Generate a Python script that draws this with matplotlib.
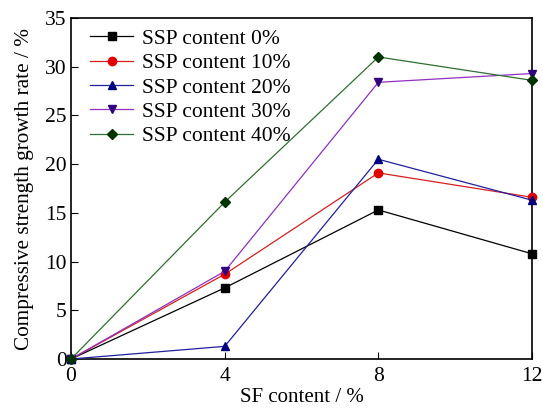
import matplotlib
matplotlib.use("Agg")
from matplotlib import pyplot as plt

sf = [0, 4, 8, 12]
ssp0 = [0, 7.3, 15.3, 10.8]
ssp10 = [0, 8.7, 19.1, 16.6]
ssp20 = [0, 1.3, 20.5, 16.3]
ssp30 = [0, 9.0, 28.4, 29.3]
ssp40 = [0, 16.1, 31.0, 28.6]
labels = ["SSP content 0%", "SSP content 10%", "SSP content 20%",
          "SSP content 30%", "SSP content 40%"]

plt.rcParams['font.family'] = ['Liberation Serif', 'DejaVu Serif']

fig = plt.figure(figsize=(5.43, 4.09), dpi=100)
ax = fig.add_axes([0.1308, 0.1222, 0.849, 0.8338])

styles = [
    (ssp0, 's', 'black', 'black'),
    (ssp10, 'o', '#d62020', '#e00000'),
    (ssp20, '^', '#2020a0', '#000080'),
    (ssp30, 'v', '#9030c0', '#300080'),
    (ssp40, 'D', '#2e7030', '#003300'),
]
for (vals, mk, lc, mc), lab in zip(styles, labels):
    ax.plot(sf, vals, color=lc, lw=0.9, marker=mk, markersize=6 if mk != 'D' else 5.2,
            markerfacecolor=mc, markeredgecolor=mc, label=lab, clip_on=False, zorder=3)

ax.set_xlim(0, 12)
ax.set_ylim(0, 35)
ax.set_xticks([0, 4, 8, 12])
ax.set_yticks(range(0, 36, 5))
ax.tick_params(direction='in', length=5, labelsize=15.5, top=False, right=False)
ax.tick_params(axis='x', pad=6)
ax.tick_params(axis='y', pad=3)
for s in ax.spines.values():
    s.set_linewidth(1.2)
ax.set_xlabel("SF content / %", fontsize=15, labelpad=1)
ax.set_ylabel("Compressive strength growth rate / %", fontsize=15.3, labelpad=8)

ax.legend(loc='upper left', bbox_to_anchor=(0.018, 1.0), frameon=False, fontsize=15.5,
          handlelength=2.0, labelspacing=0.2, borderaxespad=0.2, borderpad=0.3,
          handletextpad=0.4)

fig.savefig("out.png", dpi=100)
